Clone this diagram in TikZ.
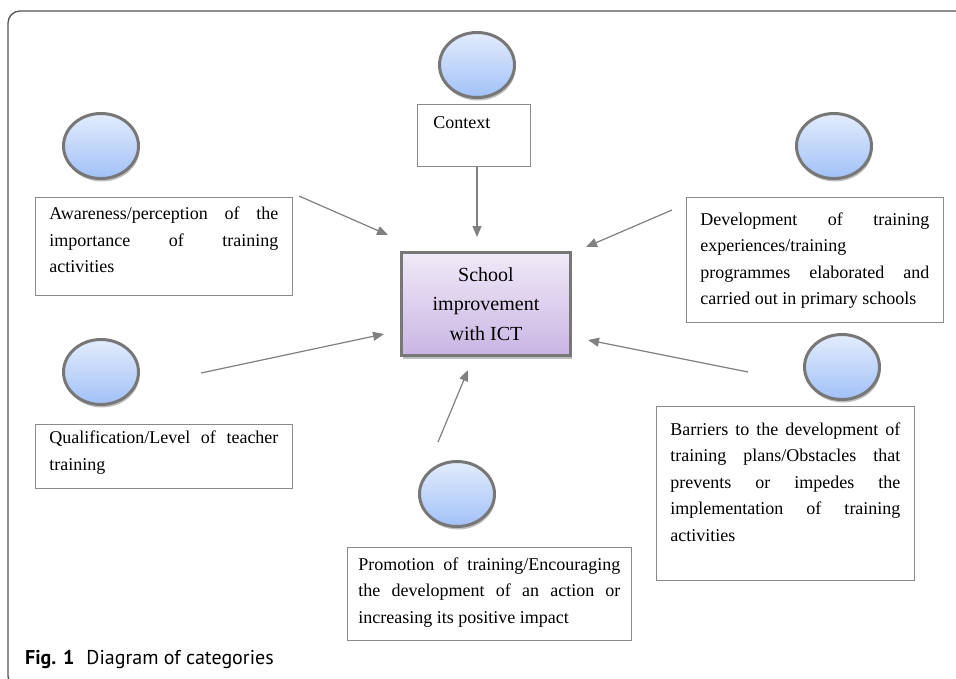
\documentclass[tikz,border=0pt]{standalone}
\usepackage{fontspec}
\setmainfont{Liberation Serif}
\newfontfamily\capfont{PT Sans}
\usetikzlibrary{arrows.meta,shadows,shapes.geometric}

\definecolor{elltop}{HTML}{E2ECFC}
\definecolor{ellbot}{HTML}{A2C1F8}
\definecolor{ctop}{HTML}{F0EAF8}
\definecolor{cbot}{HTML}{C9B5E3}
\definecolor{elledge}{HTML}{777777}
\definecolor{boxedge}{HTML}{8A8A8A}
\definecolor{arrcol}{HTML}{808080}
\definecolor{framecol}{HTML}{555555}

\newcommand\jl[1]{\makebox[\linewidth][s]{#1}\par}
\newcommand\tboxtext[4]{\parbox[c][#2][t]{#1}{\vspace*{#3}#4}}

\tikzset{
  ell/.style={ellipse, draw=elledge, line width=3pt, top color=elltop, bottom color=ellbot,
    minimum width=75pt, minimum height=65pt, inner sep=0pt,
    drop shadow={shadow xshift=1pt, shadow yshift=-3pt, opacity=0.25, fill=black}},
  txtbox/.style={draw=boxedge, line width=0.9pt, fill=white, anchor=north west,
    inner xsep=14pt, inner ysep=0pt, font=\fontsize{18}{26.5}\selectfont},
  centrebox/.style={draw=elledge, line width=3.5pt, top color=ctop, bottom color=cbot,
    minimum width=169pt, minimum height=103pt, align=center, inner sep=0pt,
    font=\fontsize{20}{29.5}\selectfont,
    drop shadow={shadow xshift=1pt, shadow yshift=-3pt, opacity=0.25, fill=black}},
  conn/.style={draw=arrcol, line width=1.2pt, -{Triangle[length=11pt,width=9pt]}, color=arrcol},
  frameline/.style={draw=framecol, line width=1.3pt}
}

\begin{document}
\begin{tikzpicture}[x=1pt,y=-1pt]
\useasboundingbox (0,0) rectangle (956,678);
\fill[white] (0,0) rectangle (956,678);
\begin{scope}
\clip (0,0) rectangle (956,678);
\draw[frameline, rounded corners=12pt] (970,11) -- (8,11) -- (8,688) -- (970,688);
\end{scope}

% centre
\node[centrebox] (centre) at (486,304) {School\\improvement\\with ICT};

% ellipses
\node[ell] (e-ctx) at (477,65) {};
\node[ell] (e-aw) at (101,146) {};
\node[ell] (e-dev) at (834,146) {};
\node[ell] (e-qual) at (101,372) {};
\node[ell] (e-bar) at (842,367) {};
\node[ell] (e-prom) at (457,494) {};

% text boxes
\node[txtbox, inner xsep=16pt] (ctx) at (417,104) {\tboxtext{81pt}{62pt}{12.5pt}{Context}};
\node[txtbox] (aw) at (35,197) {\tboxtext{229pt}{98pt}{9.5pt}{%
  \jl{Awareness/perception of the}
  \jl{importance of training}
  activities}};
\node[txtbox] (dev) at (686,197) {\tboxtext{229pt}{125pt}{15pt}{%
  \jl{Development of training}
  experiences/training\par
  \jl{programmes elaborated and}
  carried out in primary schools}};
\node[txtbox] (qual) at (35,424) {\tboxtext{229pt}{64pt}{6.5pt}{%
  \jl{Qualification/Level of teacher}
  training}};
\node[txtbox] (bar) at (656,406) {\tboxtext{230pt}{174pt}{16pt}{%
  \jl{Barriers to the development of}
  \jl{training plans/Obstacles that}
  \jl{prevents or impedes the}
  \jl{implementation of training}
  activities}};
\node[txtbox, inner xsep=11pt] (prom) at (347,547) {\tboxtext{262pt}{93pt}{10pt}{%
  \jl{Promotion of training/Encouraging}
  \jl{the development of an action or}
  increasing its positive impact}};

% connector end points
\coordinate (ctx-s) at (477,166);
\coordinate (ctx-e) at (477,237);
\coordinate (aw-s) at (299,196);
\coordinate (aw-e) at (388,235);
\coordinate (dev-s) at (672,210);
\coordinate (dev-e) at (586,247);
\coordinate (qual-s) at (201,373);
\coordinate (qual-e) at (384,334);
\coordinate (bar-s) at (748,372);
\coordinate (bar-e) at (588,340);
\coordinate (prom-s) at (438,442);
\coordinate (prom-e) at (468,370);

\draw[conn] (ctx-s) -- (ctx-e);
\draw[conn] (aw-s) -- (aw-e);
\draw[conn] (dev-s) -- (dev-e);
\draw[conn] (qual-s) -- (qual-e);
\draw[conn] (bar-s) -- (bar-e);
\draw[conn] (prom-s) -- (prom-e);

% caption
\node[anchor=base west, inner sep=0pt, font=\capfont\fontsize{20}{23}\selectfont] (cap) at (25,664)
  {\textbf{Fig. 1}\hspace{0.6em}Diagram of categories};
\end{tikzpicture}
\end{document}
